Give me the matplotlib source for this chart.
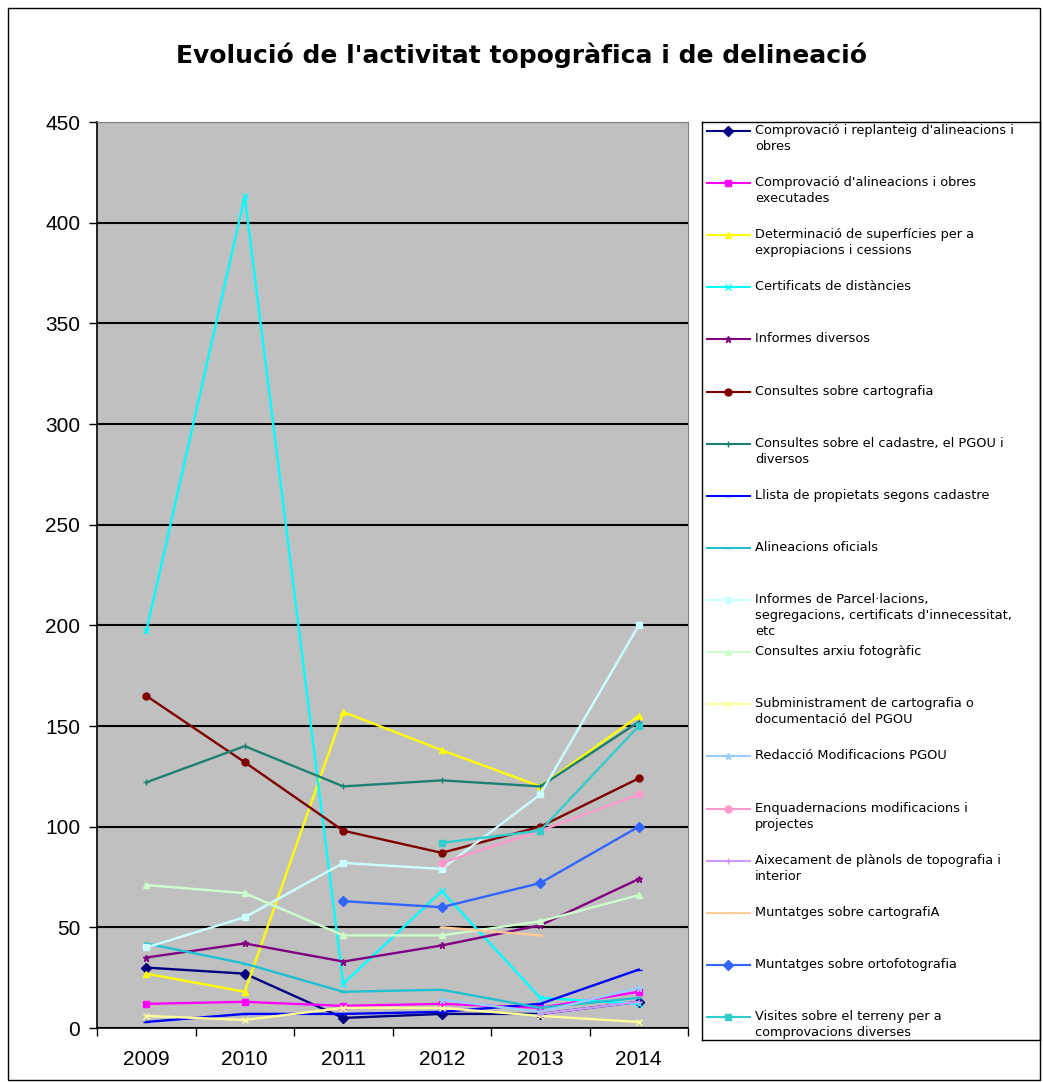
import numpy as np
import matplotlib
matplotlib.use("Agg")
import matplotlib.pyplot as plt
from matplotlib.patches import Rectangle

plt.rcParams['font.family'] = ['Liberation Sans', 'DejaVu Sans']

nan = np.nan
years = ['2009', '2010', '2011', '2012', '2013', '2014']

# one list per series
replanteig = [30, 27, 5, 7, 7, 13]
alin_executades = [12, 13, 11, 12, 10, 18]
superficies = [27, 18, 157, 138, 120, 155]
certificats = [197, 413, 22, 68, 15, 12]
informes = [35, 42, 33, 41, 51, 74]
cons_cartografia = [165, 132, 98, 87, 100, 124]
cons_cadastre = [122, 140, 120, 123, 120, 152]
llista = [3, 7, 7, 8, 12, 29]
alin_oficials = [42, 32, 18, 19, 10, 15]
parcelacions = [40, 55, 82, 79, 116, 200]
arxiu = [71, 67, 46, 46, 53, 66]
subministrament = [6, 4, 10, 10, 6, 3]
redaccio = [nan, nan, nan, 14, 8, 20]
enquadernacions = [nan, nan, nan, 82, 98, 116]
aixecament = [nan, nan, nan, nan, 7, 13]
munt_cartografia = [nan, nan, nan, 50, 46, nan]
munt_orto = [nan, nan, 63, 60, 72, 100]
visites = [nan, nan, nan, 92, 98, 150]

labels = ["Comprovació i replanteig d'alineacions i\nobres",
          "Comprovació d'alineacions i obres\nexecutades",
          "Determinació de superfícies per a\nexpropiacions i cessions",
          "Certificats de distàncies",
          "Informes diversos",
          "Consultes sobre cartografia",
          "Consultes sobre el cadastre, el PGOU i\ndiversos",
          "Llista de propietats segons cadastre",
          "Alineacions oficials",
          "Informes de Parcel·lacions,\nsegregacions, certificats d'innecessitat,\netc",
          "Consultes arxiu fotogràfic",
          "Subministrament de cartografia o\ndocumentació del PGOU",
          "Redacció Modificacions PGOU",
          "Enquadernacions modificacions i\nprojectes",
          "Aixecament de plànols de topografia i\ninterior",
          "Muntatges sobre cartografiA",
          "Muntatges sobre ortofotografia",
          "Visites sobre el terreny per a\ncomprovacions diverses"]

series = [replanteig, alin_executades, superficies, certificats, informes,
          cons_cartografia, cons_cadastre, llista, alin_oficials, parcelacions,
          arxiu, subministrament, redaccio, enquadernacions, aixecament,
          munt_cartografia, munt_orto, visites]

colors = ['#000080', '#FF00FF', '#FFFF00', '#00FFFF', '#800080', '#800000',
          '#1E8070', '#0000FF', '#20C0D0', '#CCFFFF', '#CCFFCC', '#FFFF99',
          '#99CCFF', '#FF99CC', '#CC99FF', '#FFCC99', '#3366FF', '#33CCCC']
markers = ['D', 's', '^', 'x', '*', 'o', '+', '_', '_',
           's', '^', 'x', '*', 'o', '+', '_', 'D', 's']

W, H = 1043, 1082
fig = plt.figure(figsize=(W / 100, H / 100), dpi=100)
fig.patches.append(Rectangle((8 / W, 2 / H), (1040 - 8) / W, (1074 - 2) / H,
                             transform=fig.transFigure, fill=False,
                             edgecolor='black', lw=1))

fig.text(521 / W, 1 - 55 / H, "Evolució de l'activitat topogràfica i de delineació",
         ha='center', va='center', fontsize=18, fontweight='bold',
         family='DejaVu Sans')

ax = fig.add_axes([97 / W, 1 - 1028 / H, (688 - 97) / W, (1028 - 122) / H])
ax.set_facecolor('#C0C0C0')
x = np.arange(len(years))
for vals, col, mk in zip(series, colors, markers):
    ax.plot(x, vals, color=col, marker=mk, markersize=5, lw=1.7,
            markeredgecolor=col)

ax.set_xlim(-0.5, len(years) - 0.5)
ax.set_ylim(0, 450)
ax.set_yticks(np.arange(0, 451, 50))
ax.set_xticks(x)
ax.set_xticklabels(years)
ax.set_xticks(np.arange(-0.5, len(years), 1), minor=True)
ax.tick_params(axis='x', which='major', length=0, labelsize=15, pad=16)
ax.tick_params(axis='x', which='minor', length=6, width=1)
ax.tick_params(axis='y', length=6, width=1, labelsize=15, pad=6)
ax.yaxis.grid(True, color='black', lw=1.5)
ax.set_axisbelow(True)
for s in ['top', 'right']:
    ax.spines[s].set_color('#808080')
for s in ['left', 'bottom']:
    ax.spines[s].set_color('black')
    ax.spines[s].set_linewidth(1.2)

# legend box drawn by hand so every entry gets the same slot
lx0, lx1, ly0, ly1 = 702, 1040, 122, 1040
lax = fig.add_axes([lx0 / W, 1 - ly1 / H, (lx1 - lx0) / W, (ly1 - ly0) / H])
lax.set_xlim(lx0, lx1)
lax.set_ylim(ly1, ly0)
lax.set_xticks([])
lax.set_yticks([])
for s in lax.spines.values():
    s.set_color('black')
    s.set_linewidth(1)
slots = np.linspace(131, 1017, len(labels))
for lab, col, mk, yy in zip(labels, colors, markers, slots):
    lax.plot([707, 750], [yy, yy], color=col, lw=1.5)
    lax.plot([728.5], [yy], color=col, marker=mk, markersize=5)
    lax.text(755, yy - 7, lab, ha='left', va='top', fontsize=9.3,
             linespacing=1.3, family='DejaVu Sans')

fig.savefig('out.png', dpi=100)
